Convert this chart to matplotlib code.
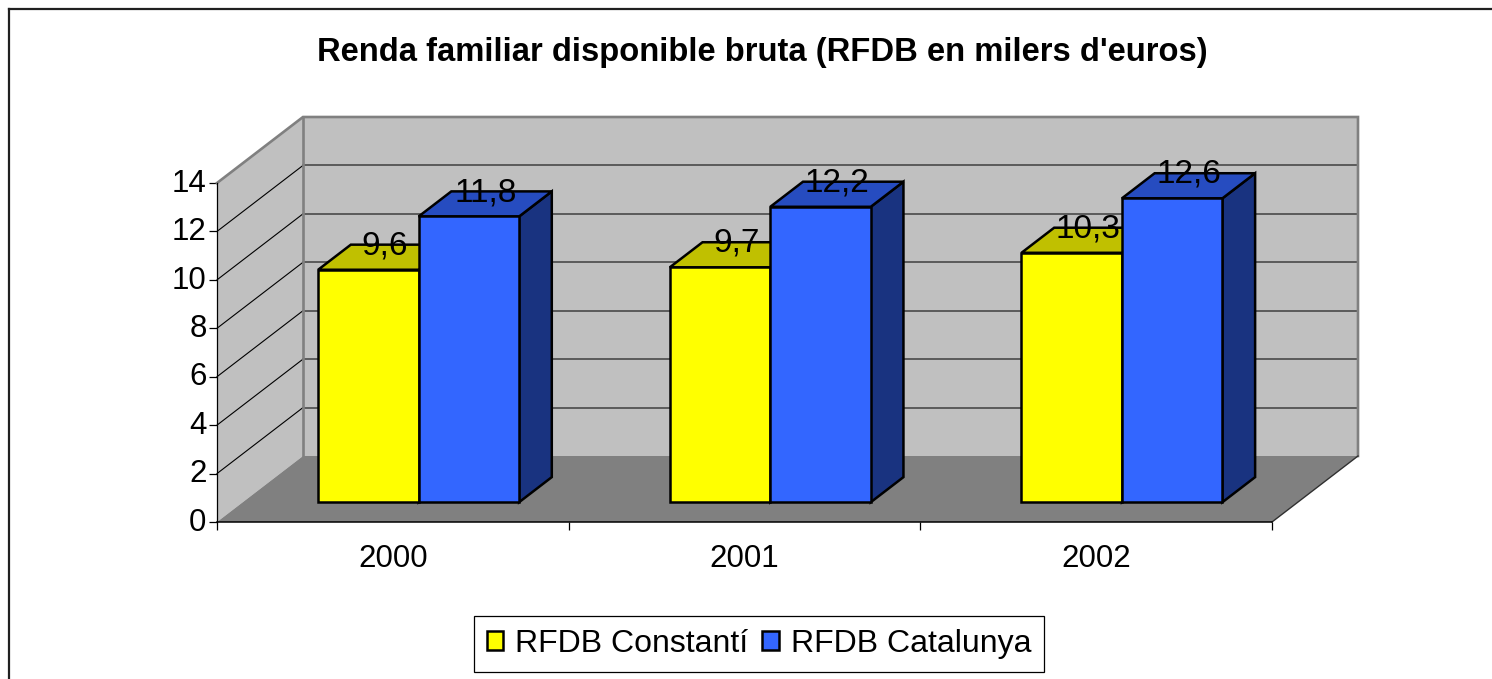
import matplotlib
matplotlib.use("Agg")
import matplotlib.pyplot as plt
from matplotlib.lines import Line2D
from matplotlib.patches import Patch, Polygon
from matplotlib.transforms import ScaledTranslation

years = ["2000", "2001", "2002"]
constanti = [9.6, 9.7, 10.3]
catalunya = [11.8, 12.2, 12.55]
constanti_labels = ["9,6", "9,7", "10,3"]
catalunya_labels = ["11,8", "12,2", "12,6"]
y_ticks = [0, 2, 4, 6, 8, 10, 12, 14]

W, H = 1492, 679
plt.rcParams["font.family"] = ["Liberation Sans", "DejaVu Sans"]

fig = plt.figure(figsize=(W / 100, H / 100), dpi=100)
ax = fig.add_axes([217 / W, (H - 522) / H, 1055 / W, 339 / H])
ax.set_xlim(0, 3)
ax.set_ylim(0, 14)
ax.patch.set_visible(False)

# depth of the fake 3d box, in data units
DX = 86 / (1055 / 3)
DY = 66 / (339 / 14)
# bars sit between these fractions of the depth
D0, D1 = 0.3, 0.68
BAR_W = 1 / 3.5


def shift(x, y, d):
    return (x + DX * d, y + DY * d)


def box(x, width, value, front, top, side):
    x0, x1 = x, x + width
    lw = 1.8
    z = 5
    ax.add_patch(Polygon([shift(x1, 0, D0), shift(x1, 0, D1), shift(x1, value, D1), shift(x1, value, D0)],
                         fc=side, ec="black", lw=lw, zorder=z, clip_on=False, joinstyle="miter"))
    ax.add_patch(Polygon([shift(x0, value, D0), shift(x0, value, D1), shift(x1, value, D1), shift(x1, value, D0)],
                         fc=top, ec="black", lw=lw, zorder=z, clip_on=False, joinstyle="miter"))
    ax.add_patch(Polygon([shift(x0, 0, D0), shift(x1, 0, D0), shift(x1, value, D0), shift(x0, value, D0)],
                         fc=front, ec="black", lw=lw, zorder=z, clip_on=False, joinstyle="miter"))


# walls and floor
ax.add_patch(Polygon([shift(0, 0, 1), shift(3, 0, 1), shift(3, 14, 1), shift(0, 14, 1)],
                     fc="#c0c0c0", ec="none", zorder=1, clip_on=False))
ax.add_patch(Polygon([(0, 0), shift(0, 0, 1), shift(0, 14, 1), (0, 14)],
                     fc="#c0c0c0", ec="none", zorder=1, clip_on=False))
ax.add_patch(Polygon([(0, 0), (3, 0), shift(3, 0, 1), shift(0, 0, 1)],
                     fc="#808080", ec="none", zorder=2, clip_on=False))

for v in y_ticks[1:-1]:
    xs, ys = zip((0, v), shift(0, v, 1), shift(3, v, 1))
    ax.plot(xs[:2], ys[:2], color="black", lw=0.8, zorder=3, clip_on=False)
    ax.plot(xs[1:], ys[1:], color="#404040", lw=1.1, zorder=3, clip_on=False)

# wall outline in grey
xs, ys = zip((0, 14), shift(0, 14, 1), shift(3, 14, 1), shift(3, 0, 1))
ax.plot(xs, ys, color="#808080", lw=1.9, zorder=4, clip_on=False, solid_joinstyle="miter")
xs, ys = zip(shift(0, 0, 1), shift(0, 14, 1))
ax.plot(xs, ys, color="#808080", lw=1.9, zorder=4, clip_on=False)
xs, ys = zip((3, 0), shift(3, 0, 1))
ax.plot(xs, ys, color="#303030", lw=1.0, zorder=4, clip_on=False)

# bars and value labels
for i in range(len(years)):
    x = i + (1 - 2 * BAR_W) / 2
    box(x, BAR_W, constanti[i], "#ffff00", "#c0c000", "#808000")
    box(x + BAR_W, BAR_W, catalunya[i], "#3366ff", "#264cc0", "#193380")
    for xb, value, label in [(x, constanti[i], constanti_labels[i]),
                             (x + BAR_W, catalunya[i], catalunya_labels[i])]:
        lx, ly = shift(xb + BAR_W / 2, value, (D0 + D1) / 2)
        ax.annotate(label, (lx, ly), xytext=(0, -3), textcoords="offset points",
                    ha="center", va="bottom", fontsize=24, color="black", zorder=6)

ax.spines["top"].set_visible(False)
ax.spines["right"].set_visible(False)
ax.spines["left"].set_linewidth(0.9)
ax.spines["bottom"].set_linewidth(1.1)
ax.spines["left"].set_zorder(4)
ax.spines["bottom"].set_zorder(4)

ax.set_yticks(y_ticks)
ax.set_yticklabels([str(v) for v in y_ticks], fontsize=22.5)
ax.set_xticks([0, 1, 2, 3])
ax.set_xticklabels([])
ax.set_xticks([0.5, 1.5, 2.5], minor=True)
ax.set_xticklabels(years, minor=True, fontsize=22.5)
ax.tick_params(axis="both", which="major", length=6, width=0.9, pad=1.5)
ax.tick_params(axis="x", which="minor", length=0, pad=16)

# excel puts the y labels a little above the tick
up = ScaledTranslation(0, 2 / 72, fig.dpi_scale_trans)
for lab in ax.get_yticklabels():
    lab.set_transform(lab.get_transform() + up)

fig.text(762 / W, 1 - 52 / H, "Renda familiar disponible bruta (RFDB en milers d'euros)",
         ha="center", va="center", fontsize=23.6, fontweight="bold")

handles = [Patch(fc="#ffff00", ec="black", lw=1.8, label="RFDB Constantí"),
           Patch(fc="#3366ff", ec="black", lw=1.8, label="RFDB Catalunya")]
leg = ax.legend(handles=handles, ncol=2, loc="center", bbox_to_anchor=(759 / W, 1 - 644 / H),
                bbox_transform=fig.transFigure, fontsize=23, fancybox=False, framealpha=1,
                edgecolor="black", handlelength=0.52, handleheight=0.52, handletextpad=0.36,
                columnspacing=0.45, borderpad=0.4, borderaxespad=0)
leg.get_frame().set_linewidth(0.9)

# chart border: only top and left fall inside the picture
fig.add_artist(Line2D([9 / W, 9 / W], [0, 1 - 9 / H], color="#202020", lw=1.6))
fig.add_artist(Line2D([9 / W, 1], [1 - 9 / H, 1 - 9 / H], color="#202020", lw=1.6))

fig.savefig("out.png", dpi=100)
